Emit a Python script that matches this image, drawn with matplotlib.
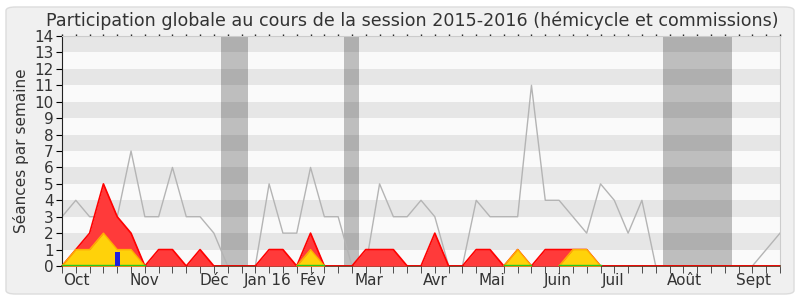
import numpy as np
import matplotlib
matplotlib.use("Agg")
import matplotlib.pyplot as plt
from matplotlib.patches import FancyBboxPatch

########## data (one value per week) ##########
weeks = np.arange(53)

seances_total = [3, 4, 3, 3, 3, 7, 3, 3, 6, 3, 3, 2, 0, 0, 0, 5, 2, 2, 6, 3,
                 3, 0, 0, 5, 3, 3, 4, 3, 0, 0, 4, 3, 3, 3, 11, 4, 4, 3, 2, 5,
                 4, 2, 4, 0, 0, 0, 0, 0, 0, 0, 0, 1, 2]

presence = [0, 1, 2, 5, 3, 2, 0, 1, 1, 0, 1, 0, 0, 0, 0, 1, 1, 0, 2, 0,
            0, 0, 1, 1, 1, 0, 0, 2, 0, 0, 1, 1, 0, 1, 0, 1, 1, 1, 1, 0,
            0, 0, 0, 0, 0, 0, 0, 0, 0, 0, 0, 0, 0]

commission = [0, 1, 1, 2, 1, 1, 0, 0, 0, 0, 0, 0, 0, 0, 0, 0, 0, 0, 1, 0,
              0, 0, 0, 0, 0, 0, 0, 0, 0, 0, 0, 0, 0, 1, 0, 0, 0, 1, 1, 0,
              0, 0, 0, 0, 0, 0, 0, 0, 0, 0, 0, 0, 0]

blue_week = [4]
blue_value = [0.87]

vacances = [(11.5, 13.5), (20.45, 21.5), (43.5, 48.55)]

month_labels = ["Oct", "Nov", "Déc", "Jan 16", "Fév", "Mar", "Avr", "Mai",
                "Juin", "Juil", "Août", "Sept"]
month_pos = [0.1, 4.9, 9.95, 13.2, 17.2, 21.2, 26.1, 30.2, 34.9, 39.1, 43.8, 48.8]

########## figure ##########
fig = plt.figure(figsize=(8, 3), dpi=100)
fig.patch.set_facecolor("white")
frame = FancyBboxPatch((6 / 800, 6 / 300), 788 / 800, 287 / 300,
                       boxstyle="round,pad=0,rounding_size=0.012",
                       transform=fig.transFigure, facecolor="#f0f0f0",
                       edgecolor="#dcdcdc", linewidth=1, zorder=-10)
fig.patches.append(frame)

ax = fig.add_axes([62 / 800, 34 / 300, 718 / 800, 230 / 300])
ax.set_zorder(5)
ax.set_xlim(0, 52)
ax.set_ylim(0, 14)
ax.set_facecolor("#fafafa")

# background stripes
for k in range(1, 14, 2):
    ax.axhspan(k, k + 1, color="#e6e6e6", lw=0, zorder=0)

# vacations
for a, b in vacances:
    ax.axvspan(a, b, color="black", alpha=0.24, lw=0, zorder=1)

ax.plot(weeks, seances_total, color="#b4b4b4", lw=1, zorder=2)

ax.fill_between(weeks, presence, color="#ff3a3a", lw=0, zorder=3)
ax.plot(weeks, presence, color="#ff0000", lw=1.2, zorder=3)

comm = np.array(commission, dtype=float)
ax.fill_between(weeks, comm, color="#ffd20a", lw=0, zorder=4)
comm_line = np.ma.masked_where(
    (comm == 0) & (np.roll(comm, 1) == 0) & (np.roll(comm, -1) == 0), comm)
ax.plot(weeks, comm_line, color="#ffb000", lw=1, zorder=4)

green = np.ma.masked_where(comm_line.mask, np.zeros(53) + 0.04)
ax.plot(weeks, green, color="#22cc22", lw=1, zorder=5)

ax.bar(blue_week, blue_value, width=0.33, color="#2020dd", zorder=6)

# axes styling
for s in ["top", "right"]:
    ax.spines[s].set_color("#cccccc")
ax.spines["left"].set_color("#222222")
ax.spines["bottom"].set_color("#5a2a10")
ax.spines["bottom"].set_linewidth(1.2)

ax.set_yticks(range(15))
ax.tick_params(axis="y", direction="out", length=4, labelsize=11,
               labelcolor="#333333", pad=2)

ax.set_xticks(month_pos)
ax.set_xticklabels(month_labels, ha="left")
ax.tick_params(axis="x", which="major", length=0, labelsize=11,
               labelcolor="#333333", pad=5)
ax.set_xticks(weeks, minor=True)
ax.tick_params(axis="x", which="minor", direction="out", length=5,
               color="#333333")

# small dotted ticks along the top
top = ax.secondary_xaxis("top")
top.set_xticks([])
top.set_xticks(weeks, minor=True)
top.tick_params(which="minor", direction="out", length=1.2, width=1,
                color="#222222")
top.spines["top"].set_visible(False)

ax.set_ylabel("Séances par semaine", fontsize=11, color="#333333", labelpad=4)
ax.set_title("Participation globale au cours de la session 2015-2016 (hémicycle et commissions)",
             fontsize=12.6, color="#333333", pad=7, x=0.488)

fig.savefig("out.png", dpi=100, facecolor=fig.get_facecolor())
